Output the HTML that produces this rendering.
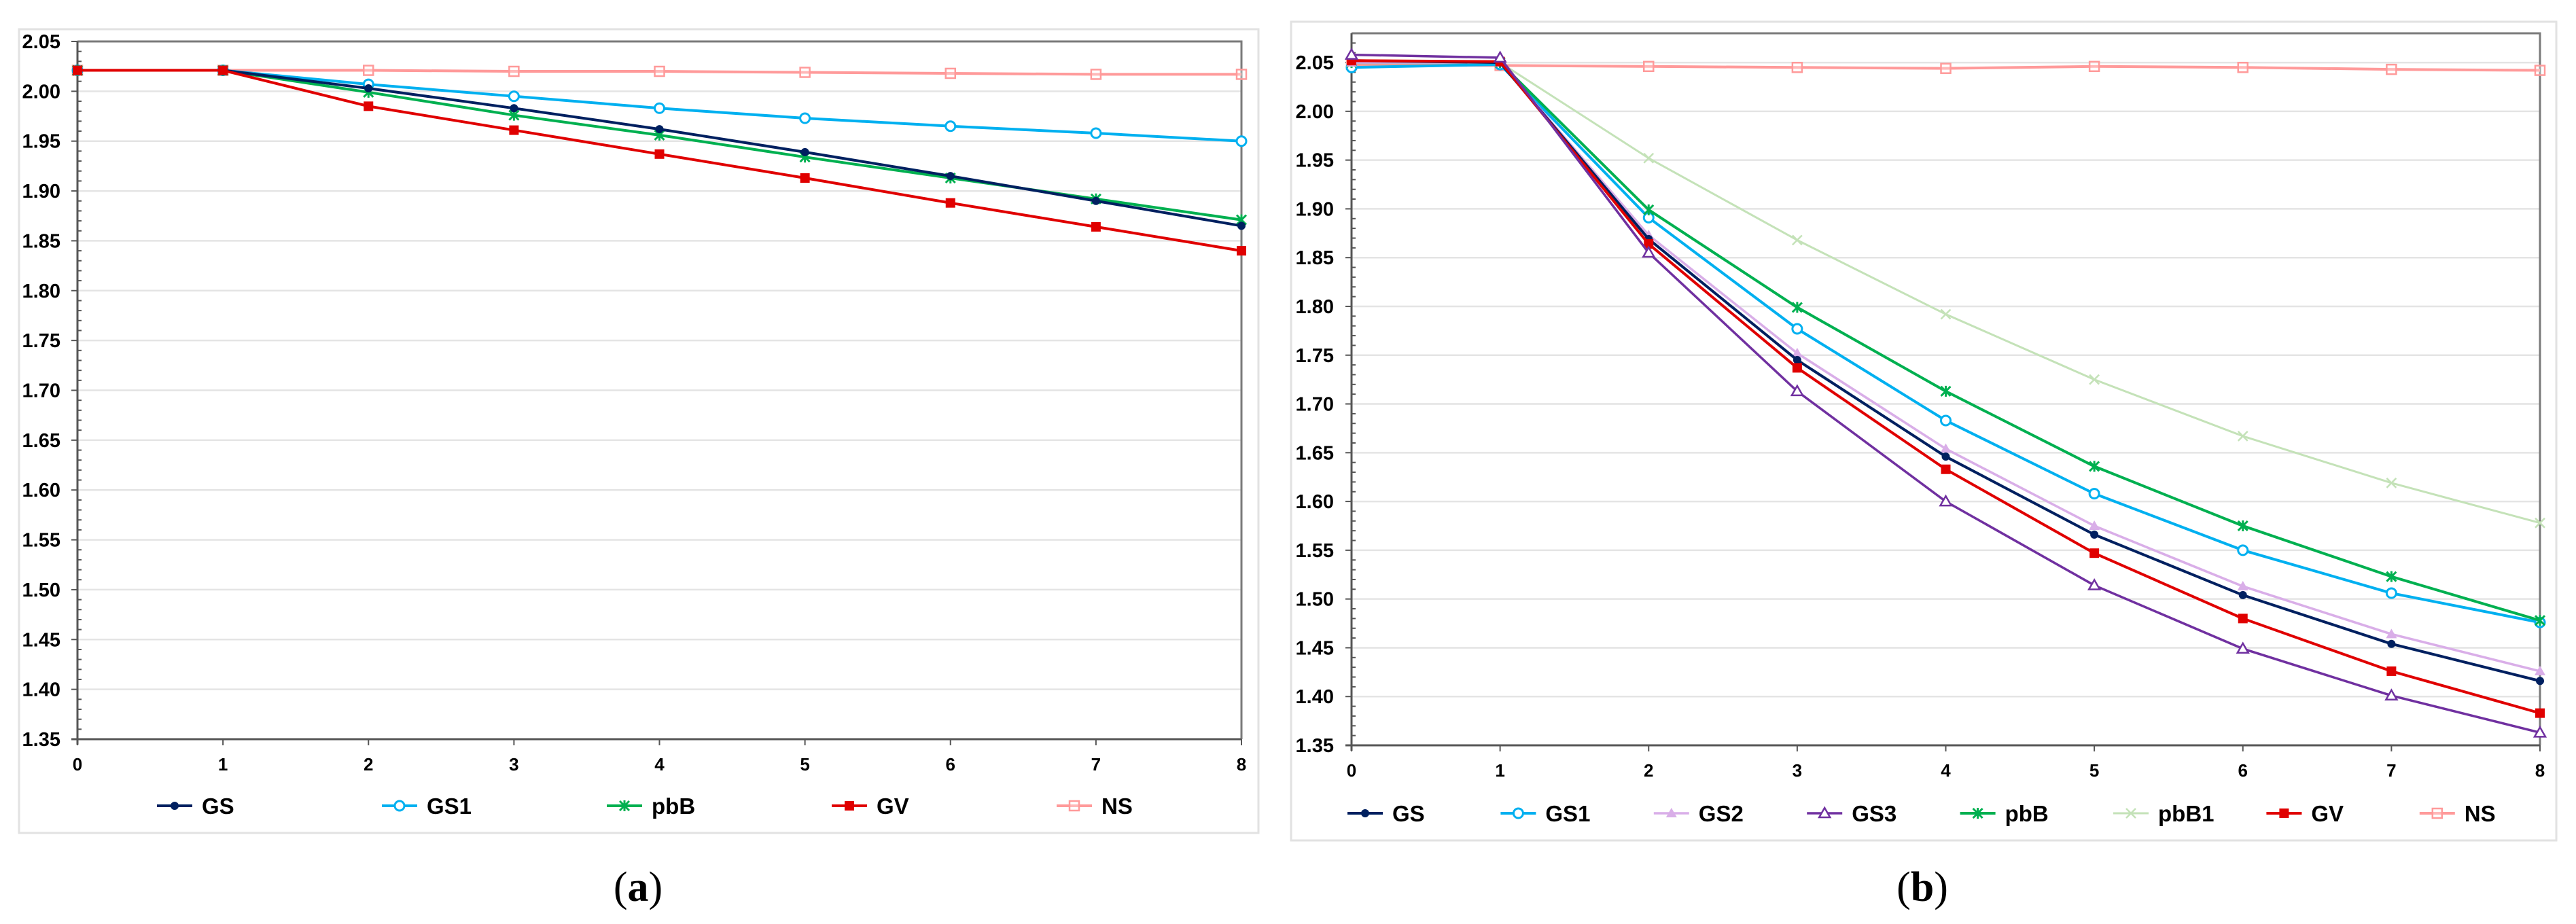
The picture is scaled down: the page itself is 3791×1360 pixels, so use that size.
<!DOCTYPE html>
<html><head><meta charset="utf-8"><style>
html,body{margin:0;padding:0;background:#fff;}
svg{display:block;}
text{font-family:"Liberation Sans",Arial,sans-serif;font-weight:bold;fill:#000;}
</style></head><body>
<svg id="root" width="3791" height="1360" viewBox="0 0 3791 1360" xmlns="http://www.w3.org/2000/svg"></svg>
<script>
// ---------- Panel (a) data ----------
const aCategories = [0,1,2,3,4,5,6,7,8];
const aNames = ["GS","GS1","pbB","GV","NS"];
const aGS  = [2.021,2.021,2.003,1.983,1.962,1.939,1.915,1.890,1.865];
const aGS1 = [2.021,2.021,2.007,1.995,1.983,1.973,1.965,1.958,1.950];
const apbB = [2.021,2.021,1.999,1.976,1.956,1.934,1.913,1.892,1.871];
const aGV  = [2.021,2.021,1.985,1.961,1.937,1.913,1.888,1.864,1.840];
const aNS  = [2.021,2.021,2.021,2.020,2.020,2.019,2.018,2.017,2.017];
const aYTicks = ["1.35","1.40","1.45","1.50","1.55","1.60","1.65","1.70","1.75","1.80","1.85","1.90","1.95","2.00","2.05"];

// ---------- Panel (b) data ----------
const bCategories = [0,1,2,3,4,5,6,7,8];
const bNames = ["GS","GS1","GS2","GS3","pbB","pbB1","GV","NS"];
const bGS   = [2.052,2.050,1.869,1.745,1.646,1.566,1.504,1.454,1.416];
const bGS1  = [2.045,2.048,1.891,1.777,1.683,1.608,1.550,1.506,1.476];
const bGS2  = [2.050,2.050,1.873,1.752,1.654,1.575,1.513,1.464,1.426];
const bGS3  = [2.058,2.055,1.855,1.713,1.600,1.514,1.449,1.401,1.363];
const bpbB  = [2.050,2.050,1.899,1.799,1.713,1.636,1.575,1.523,1.478];
const bpbB1 = [2.050,2.050,1.952,1.868,1.792,1.725,1.667,1.619,1.578];
const bGV   = [2.052,2.051,1.864,1.737,1.633,1.547,1.480,1.426,1.383];
const bNS   = [2.048,2.047,2.046,2.045,2.044,2.046,2.045,2.043,2.042];
const bYTicks = ["1.35","1.40","1.45","1.50","1.55","1.60","1.65","1.70","1.75","1.80","1.85","1.90","1.95","2.00","2.05"];

const NS = "http://www.w3.org/2000/svg";
const root = document.getElementById("root");
function mk(tag, attrs, parent){
  const e = document.createElementNS(NS, tag);
  for (const k in attrs) e.setAttribute(k, attrs[k]);
  (parent||root).appendChild(e);
  return e;
}

const styles = {
  GS:{c:"#002060",m:"dot",w:4},
  GS1:{c:"#00b0f0",m:"ocircle",w:4},
  GS2:{c:"#d9aee8",m:"tri",w:3.5},
  GS3:{c:"#7030a0",m:"otri",w:3.5},
  pbB:{c:"#00b050",m:"star",w:4},
  pbB1:{c:"#c4e2b8",m:"x",w:3},
  GV:{c:"#e00000",m:"sq",w:4},
  NS:{c:"#ff9a9a",m:"osq",w:4}
};

function marker(g, type, x, y, c){
  let e;
  if (type==="dot") e = mk("circle",{cx:x,cy:y,r:6,fill:c},g);
  else if (type==="ocircle") e = mk("circle",{cx:x,cy:y,r:7,fill:"#fff",stroke:c,"stroke-width":3},g);
  else if (type==="tri") e = mk("polygon",{points:`${x},${y-8} ${x-8},${y+6} ${x+8},${y+6}`,fill:c},g);
  else if (type==="otri") e = mk("polygon",{points:`${x},${y-8} ${x-8},${y+6} ${x+8},${y+6}`,fill:"#fff",stroke:c,"stroke-width":2.5},g);
  else if (type==="star") e = mk("path",{d:`M${x-7},${y-7}L${x+7},${y+7}M${x-7},${y+7}L${x+7},${y-7}M${x},${y-8}L${x},${y+8}`,stroke:c,"stroke-width":3},g);
  else if (type==="x") e = mk("path",{d:`M${x-7},${y-7}L${x+7},${y+7}M${x-7},${y+7}L${x+7},${y-7}`,stroke:c,"stroke-width":2.5},g);
  else if (type==="sq") e = mk("rect",{x:x-7,y:y-7,width:14,height:14,fill:c},g);
  else if (type==="osq") e = mk("rect",{x:x-7,y:y-7,width:14,height:14,fill:"#fff","fill-opacity":0.3,stroke:c,"stroke-width":2.5},g);
  
  
}

function panel(cfg){
  const g = mk("g",{});
  
  
  const fr = mk("rect",{x:cfg.box[0],y:cfg.box[1],width:cfg.box[2]-cfg.box[0],height:cfg.box[3]-cfg.box[1],fill:"#fff",stroke:"#e2e2e2","stroke-width":3},g);
  
  
  const L=cfg.L,R=cfg.R,T=cfg.T,B=cfg.B;
  const xs = v => L + (v - 0) / 8 * (R - L);
  const ys = v => B - (v - 1.35) / (cfg.yMax - 1.35) * (B - T);
  // gridlines + y labels
  cfg.yTicks.forEach(t=>{
    const v = parseFloat(t), y = ys(v);
    if (v > 1.35) {
      const gl = mk("line",{x1:L,x2:R,y1:y,y2:y,stroke:"#e4e4e4","stroke-width":2.5},g);
      
      
    }
    const tk = mk("line",{x1:L-9,x2:L,y1:y,y2:y,stroke:"#555","stroke-width":2},g);
    
    
    const tx = mk("text",{x:cfg.yLabelX,y:y+10,"text-anchor":"end","font-size":29},g);
    tx.textContent = t;
    
    
  });
  // minor ticks
  for (let k=1; k<Math.round((cfg.yMax-1.35)/0.01); k++){
    if (k%5===0) continue;
    const y = ys(1.35 + k*0.01);
    const mt = mk("line",{x1:L,x2:L+6,y1:y,y2:y,stroke:"#555","stroke-width":2},g);
    
    
  }
  // top/right border
  const br = mk("path",{d:`M${L},${T}L${R},${T}L${R},${B}`,fill:"none",stroke:"#7a7a7a","stroke-width":3},g);
  
  
  // axes
  const ya = mk("line",{x1:L,x2:L,y1:T,y2:B+8,stroke:"#555","stroke-width":3},g);
  
  
  const xa = mk("line",{x1:L-9,x2:R,y1:B,y2:B,stroke:"#555","stroke-width":3},g);
  
  
  cfg.cats.forEach(c=>{
    const x = xs(c);
    const t = mk("line",{x1:x,x2:x,y1:B,y2:B+9,stroke:"#555","stroke-width":2},g);
    
    
    const tx = mk("text",{x:x,y:B+46,"text-anchor":"middle","font-size":26},g);
    tx.textContent = String(c);
    
    
  });
  // series
  cfg.series.forEach(([name, vals])=>{
    const st = styles[name];
    const sg = mk("g",{},g);
    
    
    const pts = vals.map((v,i)=>xs(cfg.cats[i])+","+ys(v)).join(" ");
    const pl = mk("polyline",{points:pts,fill:"none",stroke:st.c,"stroke-width":st.w,"stroke-linejoin":"round"},sg);
    
    
    vals.forEach((v,i)=>marker(sg, st.m, xs(cfg.cats[i]), ys(v), st.c));
  });
  // legend
  const lg = mk("g",{},g);
  
  
  cfg.names.forEach((n,i)=>{
    const st = styles[n];
    const x0 = cfg.legX + i*cfg.legStep, y = cfg.legY;
    const eg = mk("g",{},lg);
    
    
    mk("line",{x1:x0,x2:x0+52,y1:y,y2:y,stroke:st.c,"stroke-width":st.w},eg);
    marker(eg, st.m, x0+26, y, st.c);
    const tx = mk("text",{x:x0+66,y:y+12,"font-size":33},eg);
    tx.textContent = n;
    
    
  });
  // caption
  const cap = mk("text",{x:cfg.capX,y:1326,"text-anchor":"middle","font-size":62,style:"font-family:'Liberation Serif',serif;font-weight:normal"},g);
  cap.innerHTML = '(<tspan font-weight="bold">'+cfg.cap+'</tspan>)';
  
  
}

panel({id:"chart-a",box:[28,43,1852,1226],L:114,R:1827,T:61,B:1088,yMax:2.05,yLabelX:89,
  yTicks:aYTicks,cats:aCategories,names:aNames,
  series:[["NS",aNS],["GS1",aGS1],["pbB",apbB],["GS",aGS],["GV",aGV]],
  legX:231,legStep:331,legY:1186,capX:939,cap:"a"});

panel({id:"chart-b",box:[1900,32,3762,1237],L:1989,R:3738,T:49,B:1097,yMax:2.08,yLabelX:1963,
  yTicks:bYTicks,cats:bCategories,names:bNames,
  series:[["pbB1",bpbB1],["NS",bNS],["GS1",bGS1],["pbB",bpbB],["GS2",bGS2],["GS",bGS],["GV",bGV],["GS3",bGS3]],
  legX:1983,legStep:225.4,legY:1197,capX:2829,cap:"b"});
</script>
</body></html>
